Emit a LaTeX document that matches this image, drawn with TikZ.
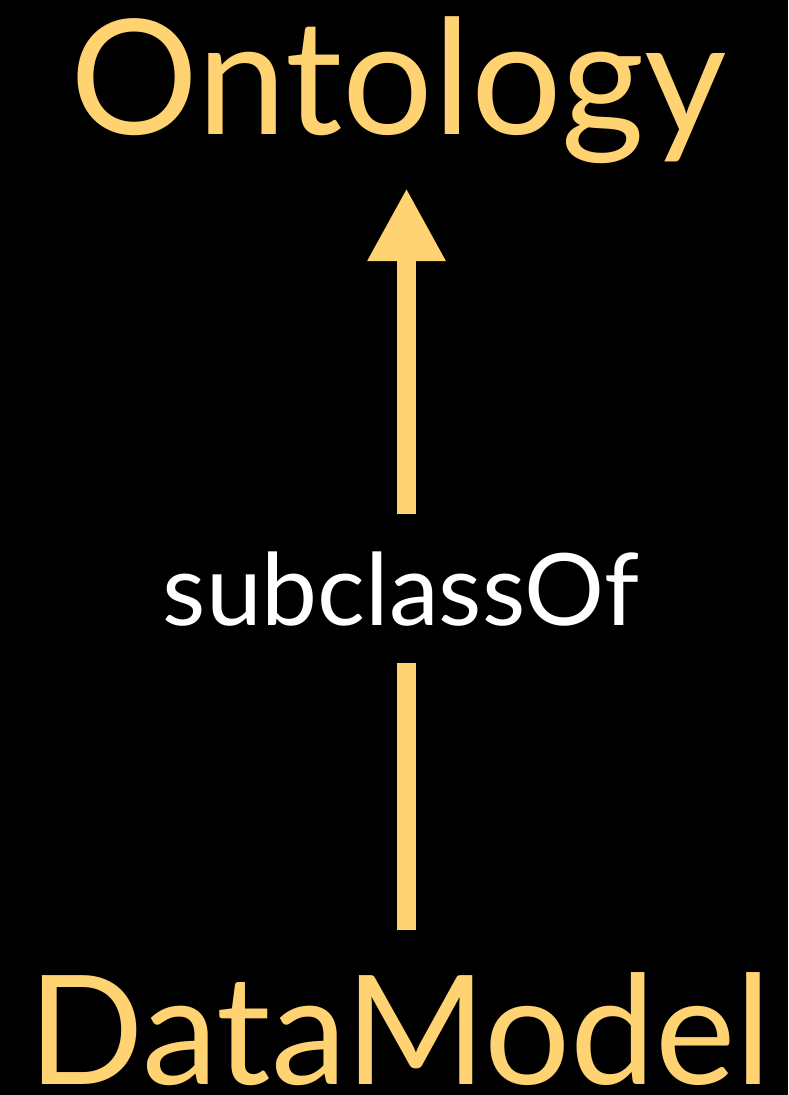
\documentclass[tikz,border=0pt]{standalone}
\usepackage{fontspec}
\setmainfont{Lato}
\usetikzlibrary{arrows.meta}
\definecolor{gold}{HTML}{FFD272}
\tikzset{
  term/.style={anchor=base,inner sep=0pt,text=gold,font=\fontsize{156}{160}\selectfont},
  rel/.style={anchor=base,inner xsep=0pt,inner ysep=37pt,fill=black,text=white,font=\fontsize{100}{104}\selectfont},
  shaft/.style={draw=gold,line width=19pt},
  head/.style={-{Triangle[width=73pt,length=73pt]}}
}
\begin{document}
\begin{tikzpicture}[x=1pt,y=-1pt]
\fill[black] (0,0) rectangle (788,1095);
\useasboundingbox (0,0) rectangle (788,1095);
\node[term,font=\fontsize{160}{164}\selectfont] (onto) at (399,134) {Ontology};
\node[term,font=\fontsize{152}{156}\selectfont] (dm) at (400,1084) {DataModel};
\node[rel] (sub) at (401,625) {subclassOf};
\coordinate (tip) at (406.5,188);
\coordinate (foot) at (406.5,930);
\draw[shaft] (foot) -- (sub.south -| foot);
\draw[shaft,head] (sub.north -| foot) -- (tip);
\end{tikzpicture}
\end{document}
